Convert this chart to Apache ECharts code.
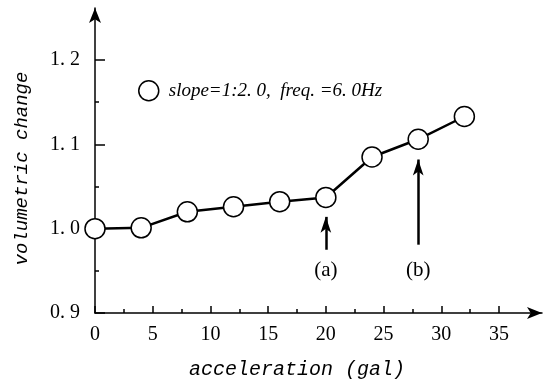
<!DOCTYPE html>
<html>
<head>
<meta charset="utf-8">
<script src="https://cdn.jsdelivr.net/npm/echarts@6/dist/echarts.min.js"></script>
<style>
  html, body { margin: 0; padding: 0; background: #fff; }
  #chart { width: 544px; height: 387px; }
</style>
</head>
<body>
<div id="chart"></div>
<script>
// data
var accel = [0, 4, 8, 12, 16, 20, 24, 28, 32]
var volChange = [1.000, 1.001, 1.020, 1.026, 1.032, 1.037, 1.085, 1.106, 1.133]
var xTickLabels = ['0', '5', '10', '15', '20', '25', '30', '35']
var yTickLabels = ['0. 9', '1. 0', '1. 1', '1. 2']
var seriesName = 'slope=1:2. 0,  freq. =6. 0Hz'
// arrows (a) and (b): x, tail y, tip y, label y
var arrowNames = ['(a)', '(b)']
var arrowX = [20, 28]
var arrowTail = [0.975, 0.981]
var arrowTip = [1.014, 1.082]
var arrowTextY = [0.951, 0.951]

var chart = echarts.init(document.getElementById('chart'))

var serif = '"Liberation Serif", "DejaVu Serif", serif'
var mono = '"Liberation Mono", "DejaVu Sans Mono", monospace'

var markLines = []
var markPoints = []
for (var i = 0; i < arrowNames.length; i++) {
  markLines.push([
    { coord: [arrowX[i], arrowTail[i]], symbol: 'none' },
    { coord: [arrowX[i], arrowTip[i]], symbol: 'arrow' }
  ])
  markPoints.push({ coord: [arrowX[i], arrowTextY[i]], value: arrowNames[i] })
}

chart.setOption({
  animation: false,
  backgroundColor: '#fff',
  grid: [
    { left: 95, top: 60, width: 404, height: 253 },
    { left: 95, top: 8, width: 447, height: 305 }
  ],
  legend: {
    data: [seriesName],
    left: 133,
    top: 75,
    icon: 'circle',
    itemWidth: 20,
    itemHeight: 20,
    itemStyle: { color: '#fff', borderColor: '#000', borderWidth: 1.5 },
    textStyle: {
      fontFamily: serif,
      fontStyle: 'italic',
      fontSize: 19,
      color: '#000',
      padding: [0, 0, 0, 5]
    }
  },
  xAxis: [
    {
      type: 'value',
      gridIndex: 0,
      min: 0,
      max: 35,
      interval: 5,
      axisLine: { show: false },
      axisTick: { show: true, inside: true, length: 7, lineStyle: { color: '#000', width: 1.5 } },
      minorTick: { show: true, splitNumber: 2, length: 4, lineStyle: { color: '#000', width: 1.5 } },
      splitLine: { show: false },
      axisLabel: {
        margin: 12,
        color: '#000',
        fontFamily: serif,
        fontSize: 20,
        formatter: function (v, idx) { return xTickLabels[idx] }
      },
      name: 'acceleration (gal)',
      nameLocation: 'middle',
      nameGap: 47,
      nameTextStyle: { fontFamily: mono, fontStyle: 'italic', fontSize: 20, color: '#000' }
    },
    {
      type: 'value',
      gridIndex: 1,
      min: 0,
      max: 1,
      axisLine: { show: true, symbol: ['none', 'arrow'], symbolSize: [9, 15], lineStyle: { color: '#000', width: 1.5 } },
      axisTick: { show: false },
      axisLabel: { show: false },
      splitLine: { show: false }
    }
  ],
  yAxis: [
    {
      type: 'value',
      gridIndex: 0,
      min: 0.9,
      max: 1.2,
      interval: 0.1,
      axisLine: { show: false },
      axisTick: { show: true, inside: true, length: 10, lineStyle: { color: '#000', width: 1.5 } },
      minorTick: { show: true, splitNumber: 2, length: 4, lineStyle: { color: '#000', width: 1.5 } },
      splitLine: { show: false },
      axisLabel: {
        margin: 15,
        color: '#000',
        fontFamily: serif,
        fontSize: 20,
        formatter: function (v, idx) { return yTickLabels[idx] }
      },
      name: 'volumetric change',
      nameLocation: 'middle',
      nameGap: 64,
      nameTextStyle: {
        fontFamily: mono,
        fontStyle: 'italic',
        fontSize: 19,
        color: '#000',
        padding: [0, 0, 0, 36]
      }
    },
    {
      type: 'value',
      gridIndex: 1,
      min: 0,
      max: 1,
      axisLine: { show: true, symbol: ['none', 'arrow'], symbolSize: [9, 15], lineStyle: { color: '#000', width: 1.5 } },
      axisTick: { show: false },
      axisLabel: { show: false },
      splitLine: { show: false }
    }
  ],
  series: [
    {
      name: seriesName,
      type: 'line',
      xAxisIndex: 0,
      yAxisIndex: 0,
      data: accel.map(function (x, i) { return [x, volChange[i]] }),
      symbol: 'circle',
      symbolSize: 20,
      itemStyle: { color: '#fff', borderColor: '#000', borderWidth: 1.5 },
      lineStyle: { color: '#000', width: 2.5 },
      z: 5,
      markLine: {
        silent: true,
        symbolSize: [8, 16],
        lineStyle: { color: '#000', width: 2.5, type: 'solid' },
        label: { show: false },
        data: markLines
      },
      markPoint: {
        silent: true,
        symbol: 'circle',
        symbolSize: 0,
        label: {
          show: true,
          position: 'inside',
          color: '#000',
          fontFamily: serif,
          fontSize: 21,
          formatter: function (p) { return p.value }
        },
        data: markPoints
      }
    }
  ]
})
</script>
</body>
</html>
